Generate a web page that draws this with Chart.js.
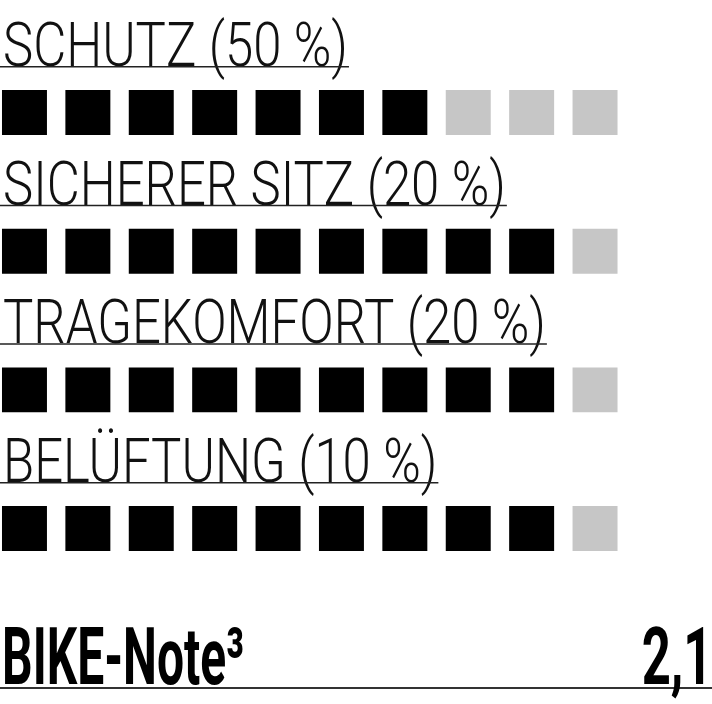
<!DOCTYPE html>
<html><head><meta charset="utf-8">
<script src="https://cdn.jsdelivr.net/npm/chart.js@4"></script>
<style>
html,body{margin:0;padding:0;background:#fff;width:712px;height:704px;overflow:hidden}
#wrap{position:absolute;left:0;top:0;width:712px;height:704px}
#foot{position:absolute;left:0;top:617px;width:712px;height:70px;border-bottom:2px solid #333;font-family:Roboto,'Liberation Sans',sans-serif;font-weight:700;font-size:80px;line-height:80px;color:#000;white-space:nowrap}
#foot .l{position:absolute;left:2px;top:0;transform:scaleX(0.6);transform-origin:0 0}
#foot .r{position:absolute;right:0;top:0;transform:scaleX(0.635);transform-origin:100% 0}
</style></head>
<body>
<div id="wrap"><canvas id="c"></canvas></div>
<div id="foot"><span class="l" id="noteLabel"></span><span class="r" id="noteValue"></span></div>
<script>
const categories = ['SCHUTZ (50 %)', 'SICHERER SITZ (20 %)', 'TRAGEKOMFORT (20 %)', 'BELÜFTUNG (10 %)'];
const scores = [7, 9, 9, 9];
const maxScore = 10;
const noteLabel = 'BIKE-Note³';
const noteValue = '2,1';

document.getElementById('noteLabel').textContent = noteLabel;
document.getElementById('noteValue').textContent = noteValue;

const filled = [], empty = [];
categories.forEach((c, i) => {
  for (let k = 1; k <= maxScore; k++) {
    (k <= scores[i] ? filled : empty).push({x: k, y: i});
  }
});

const labelPlugin = {
  id: 'rowLabels',
  afterDatasetsDraw(chart) {
    const ctx = chart.ctx, ys = chart.scales.y;
    const left = chart.chartArea.left;
    const sx = 0.82;
    ctx.save();
    ctx.font = '300 62px Roboto, "Liberation Sans", sans-serif';
    ctx.fillStyle = '#111';
    ctx.textBaseline = 'alphabetic';
    categories.forEach((c, i) => {
      const yb = ys.getPixelForValue(i) - 46.5;
      const w = ctx.measureText(c).width * sx;
      ctx.save();
      ctx.translate(left + 3, yb);
      ctx.scale(sx, 1);
      ctx.fillText(c, 0, 0);
      ctx.restore();
      ctx.beginPath();
      ctx.strokeStyle = '#222';
      ctx.lineWidth = 1.5;
      ctx.moveTo(left, yb + 0.75);
      ctx.lineTo(left + 3 + w + 1, yb + 0.75);
      ctx.stroke();
    });
    ctx.restore();
  }
};

new Chart(document.getElementById('c'), {
  type: 'scatter',
  data: {
    datasets: [
      {label: 'filled', data: filled, backgroundColor: '#000', borderWidth: 0, pointStyle: 'rect', pointRadius: 31.8, pointHoverRadius: 31.8},
      {label: 'empty', data: empty, backgroundColor: '#c6c6c6', borderWidth: 0, pointStyle: 'rect', pointRadius: 31.8, pointHoverRadius: 31.8}
    ]
  },
  options: {
    responsive: true,
    maintainAspectRatio: false,
    animation: false,
    events: [],
    layout: {padding: 0, autoPadding: false},
    plugins: {legend: {display: false}, tooltip: {enabled: false}},
    scales: {
      x: {type: 'linear', display: false, min: 0.614, max: 11.845},
      y: {type: 'linear', display: false, min: -0.811, max: 4.265, reverse: true}
    }
  },
  plugins: [labelPlugin]
});
</script>
</body></html>
